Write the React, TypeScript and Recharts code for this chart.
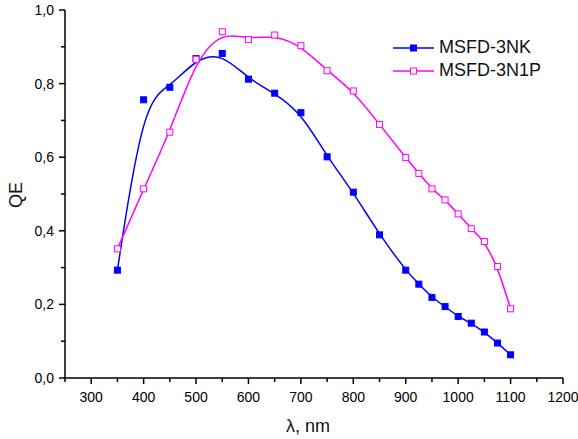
import React from 'react';
import { LineChart, Line, XAxis, YAxis } from 'recharts';

// wavelength, nm
const wavelengths = [350, 400, 450, 500, 550, 600, 650, 700, 750, 800, 850, 900, 925, 950, 975, 1000, 1025, 1050, 1075, 1100];
const qe3NK = [0.293, 0.756, 0.79, 0.868, 0.882, 0.812, 0.774, 0.721, 0.601, 0.505, 0.389, 0.293, 0.255, 0.219, 0.194, 0.167, 0.149, 0.125, 0.095, 0.063];
const qe3N1P = [0.351, 0.514, 0.668, 0.866, 0.941, 0.92, 0.932, 0.903, 0.835, 0.78, 0.689, 0.599, 0.556, 0.514, 0.484, 0.446, 0.406, 0.371, 0.303, 0.188];

const xTicks = [250, 300, 350, 400, 450, 500, 550, 600, 650, 700, 750, 800, 850, 900, 950, 1000, 1050, 1100, 1150, 1200];
const yTicks = [0, 0.1, 0.2, 0.3, 0.4, 0.5, 0.6, 0.7, 0.8, 0.9, 1.0];

const BLUE = '#0000ff';
const MAGENTA = '#ff00ff';
const FONT = '"Liberation Sans", Arial, sans-serif';

const data = wavelengths.map((x, i) => ({ x, nk: qe3NK[i], n1p: qe3N1P[i] }));

const XTick = (props: any) => {
  const { x, y, payload } = props;
  const v = payload.value;
  const major = v % 100 === 0;
  return (
    <g>
      <line x1={x} y1={y} x2={x} y2={y + (major ? 6 : 4)} stroke="#000" strokeWidth={1.5} />
      {major && (
        <text x={x} y={y + 24} textAnchor="middle" fontSize={14} fontFamily={FONT} fill="#000">
          {v}
        </text>
      )}
    </g>
  );
};

const YTick = (props: any) => {
  const { x, y, payload } = props;
  const v = payload.value;
  const major = Math.round(v * 10) % 2 === 0;
  return (
    <g>
      <line x1={x} y1={y} x2={x - (major ? 6 : 4)} y2={y} stroke="#000" strokeWidth={1.5} />
      {major && (
        <text x={x - 11} y={y + 5} textAnchor="end" fontSize={14} fontFamily={FONT} fill="#000">
          {v.toFixed(1).replace('.', ',')}
        </text>
      )}
    </g>
  );
};

const SquareDot = (filled: boolean, color: string) => (props: any) => {
  const { cx, cy, index } = props;
  if (cx == null || cy == null) return <g key={index} />;
  return (
    <rect
      key={index}
      x={cx - 3}
      y={cy - 3}
      width={6}
      height={6}
      fill={filled ? color : '#fff'}
      stroke={color}
      strokeWidth={1}
    />
  );
};

const legendItems = [
  { name: 'MSFD-3NK', color: BLUE, filled: true },
  { name: 'MSFD-3N1P', color: MAGENTA, filled: false },
];

export default function App() {
  return (
    <div style={{ position: 'absolute', left: 0, top: 0, width: 578, height: 439, background: '#fff' }}>
      <LineChart width={578} height={439} data={data} margin={{ top: 10, right: 15, left: 0, bottom: 0 }}>
        <XAxis
          type="number"
          dataKey="x"
          domain={[250, 1200]}
          ticks={xTicks}
          interval={0}
          tickSize={0}
          tickMargin={0}
          tick={<XTick />}
          height={61}
          axisLine={{ stroke: '#000', strokeWidth: 1.5 }}
          tickLine={false}
        />
        <YAxis
          type="number"
          domain={[0, 1]}
          ticks={yTicks}
          interval={0}
          tickSize={0}
          tickMargin={0}
          tick={<YTick />}
          width={65}
          axisLine={{ stroke: '#000', strokeWidth: 1.5 }}
          tickLine={false}
        />
        <Line
          type="basis"
          dataKey="nk"
          name="MSFD-3NK"
          stroke={BLUE}
          strokeWidth={1.5}
          dot={SquareDot(true, BLUE)}
          isAnimationActive={false}
        />
        <Line
          type="basis"
          dataKey="n1p"
          name="MSFD-3N1P"
          stroke={MAGENTA}
          strokeWidth={1.5}
          dot={SquareDot(false, MAGENTA)}
          isAnimationActive={false}
        />
      </LineChart>
      <div style={{ position: 'absolute', left: 393, top: 36, fontFamily: FONT, fontSize: 18, color: '#111' }}>
        {legendItems.map((it) => (
          <div key={it.name} style={{ display: 'flex', alignItems: 'center', height: 23 }}>
            <svg width={46} height={12}>
              <line x1={0} y1={6} x2={41} y2={6} stroke={it.color} strokeWidth={1.5} />
              <rect x={17.5} y={3} width={6} height={6} fill={it.filled ? it.color : '#fff'} stroke={it.color} />
            </svg>
            <span>{it.name}</span>
          </div>
        ))}
      </div>
      <div
        style={{
          position: 'absolute',
          left: 16,
          top: 195,
          transform: 'translate(-50%, -50%) rotate(-90deg)',
          fontFamily: FONT,
          fontSize: 18,
          color: '#111',
        }}
      >
        QE
      </div>
      <div
        style={{
          position: 'absolute',
          left: 308,
          top: 426,
          transform: 'translate(-50%, -50%)',
          fontFamily: FONT,
          fontSize: 18,
          color: '#111',
          whiteSpace: 'nowrap',
        }}
      >
        λ, nm
      </div>
    </div>
  );
}
